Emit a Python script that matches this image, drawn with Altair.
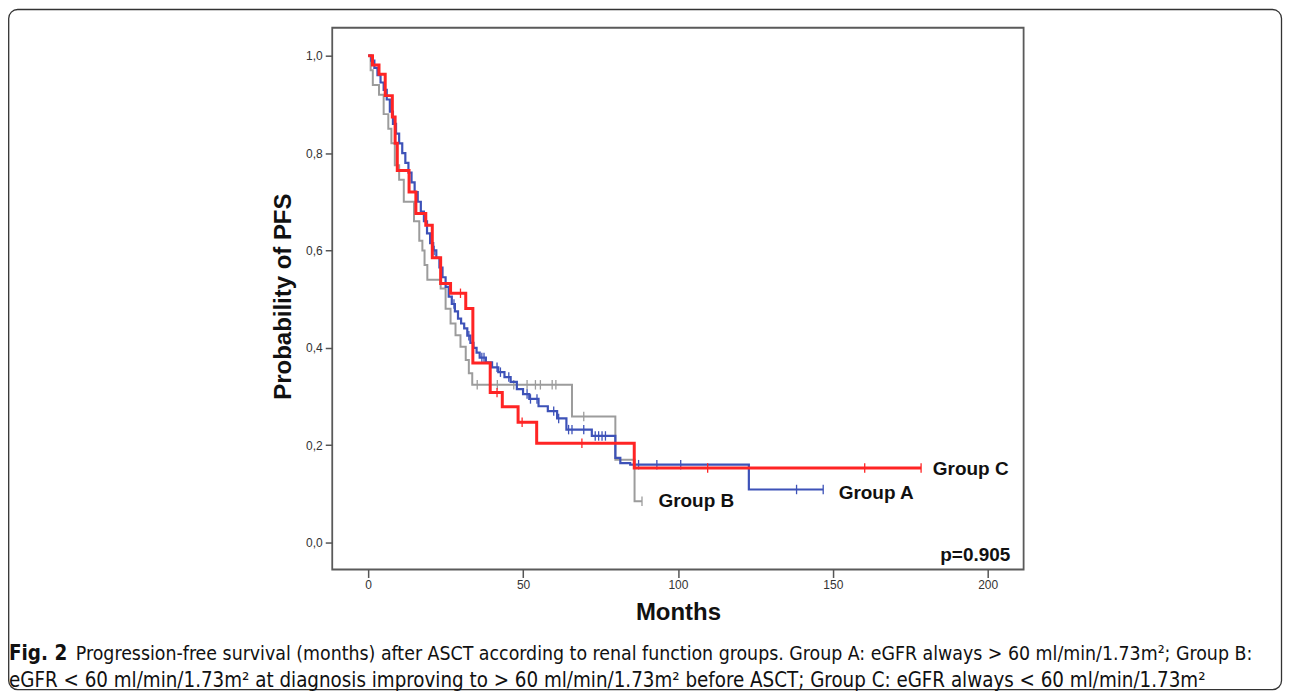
import altair as alt
import pandas as pd

# ---------------- data ----------------
# Group A (blue)
a_time = [0, 1, 2, 3, 4, 5, 6, 7, 8, 9, 10, 11, 12, 13, 14, 15, 16, 17, 18, 19, 20, 21, 22, 23, 24, 25, 26,
          27, 28, 29, 30, 31, 32, 33, 34, 35, 36, 38, 40, 42, 44, 46, 48, 50, 52, 55, 58, 61, 64, 72.2,
          79.8, 81.4, 84.6, 122.9, 146.9]
a_surv = [1.0, 0.99, 0.975, 0.96, 0.945, 0.93, 0.91, 0.885, 0.86, 0.84, 0.82, 0.80, 0.78, 0.76, 0.74, 0.72,
          0.70, 0.68, 0.66, 0.635, 0.615, 0.60, 0.585, 0.565, 0.545, 0.525, 0.505, 0.49, 0.475, 0.46, 0.45,
          0.44, 0.425, 0.41, 0.40, 0.39, 0.38, 0.37, 0.36, 0.35, 0.34, 0.33, 0.315, 0.305, 0.295, 0.28,
          0.27, 0.255, 0.232, 0.219, 0.174, 0.163, 0.160, 0.109, 0.109]
a_cens = [21.3, 27.7, 32.5, 36.7, 37.4, 41.6, 42.7, 45.4, 51.3, 52.4, 54.5, 59.9, 61.5, 64.7, 65.8, 69.6,
          73.3, 74.4, 75.5, 76.6, 87.3, 93.2, 100.9, 138.3, 146.9]

# Group B (grey)
b_time = [0, 0.8, 1.5, 3.5, 5.0, 6.5, 7.5, 8.6, 10.0, 11.5, 14.8, 16.5, 17.5, 18.2, 19.1, 23.4, 25.0, 26.6,
          28.2, 29.8, 31.5, 32.5, 33.6, 65.8, 79.8, 86.0, 88.4]
b_surv = [1.0, 0.97, 0.94, 0.92, 0.88, 0.85, 0.82, 0.775, 0.745, 0.70, 0.66, 0.62, 0.60, 0.57, 0.54, 0.522,
          0.48, 0.45, 0.426, 0.402, 0.375, 0.348, 0.324, 0.259, 0.17, 0.085, 0.085]
b_cens = [35.2, 41.7, 47.0, 51.3, 54.0, 55.6, 59.4, 60.6, 69.6, 88.4]

# Group C (red)
c_time = [0, 1.4, 3.5, 5.5, 7.8, 8.7, 9.4, 13.2, 15.4, 18.6, 20.7, 23.4, 26.6, 31.5, 33.8, 39.4, 43.3,
          48.4, 54.4, 85.9, 178.5]
c_surv = [1.0, 0.981, 0.962, 0.918, 0.874, 0.82, 0.764, 0.72, 0.676, 0.652, 0.585, 0.532, 0.512, 0.481,
          0.369, 0.308, 0.279, 0.247, 0.204, 0.153, 0.153]
c_cens = [29.8, 41.6, 49.7, 69.0, 109.6, 160.3, 178.5]

x_ticks = [0, 50, 100, 150, 200]
y_ticks = [0.0, 0.2, 0.4, 0.6, 0.8, 1.0]

groups = ["Group A", "Group B", "Group C"]
label_m = [151.9, 93.7, 182.3]
label_s = [0.1018, 0.0846, 0.1510]
p_text = "p=0.905"

caption_bold = "Fig. 2"
caption_1 = ("Progression-free survival (months) after ASCT according to renal function groups. "
             "Group A: eGFR always > 60 ml/min/1.73m²; Group B:")
caption_2 = ("eGFR < 60 ml/min/1.73m² at diagnosis improving to > 60 ml/min/1.73m² before ASCT; "
             "Group C: eGFR always < 60 ml/min/1.73m²")

# ---------------- styling ----------------
colors = {"Group A": "#3d52b8", "Group B": "#9c9c9c", "Group C": "#ff2424"}
widths = {"Group A": 2.2, "Group B": 2.0, "Group C": 3.0}
W, H = 693, 543
FONT = "Liberation Sans"
CAP_FONT = "DejaVu Sans Condensed"


def step_value(times, survs, t):
    v = survs[0]
    for tt, s in zip(times, survs):
        if tt <= t:
            v = s
    return v


curves = {"Group A": (a_time, a_surv, a_cens),
          "Group B": (b_time, b_surv, b_cens),
          "Group C": (c_time, c_surv, c_cens)}

xscale = alt.Scale(domain=[-11.6, 211.6], nice=False, zero=False)
yscale = alt.Scale(domain=[-0.0553, 1.0574], nice=False, zero=False)

xaxis = alt.Axis(values=x_ticks, title="Months", grid=False, domain=False, tickSize=8, tickWidth=1.5,
                 tickColor="#555555", labelFont=FONT, labelFontSize=12, labelColor="#333333",
                 labelPadding=2, titleFont=FONT, titleFontSize=24, titleFontWeight="bold",
                 titleColor="#111111", titleBaseline="alphabetic", titleY=50, titleX=W / 2,
                 titleAlign="center")
yaxis = alt.Axis(values=y_ticks, title="Probability of PFS", grid=False, domain=False, tickSize=7,
                 tickWidth=1.5, tickColor="#555555", format=".1f",
                 labelExpr="replace(datum.label, '.', ',')", labelFont=FONT, labelFontSize=12,
                 labelColor="#333333", labelPadding=3, titleFont=FONT, titleFontSize=24,
                 titleFontWeight="bold", titleColor="#111111", titleAngle=-90, titleBaseline="alphabetic",
                 titleAlign="center", titleX=-42, titleY=269)

layers = []
for g in ["Group B", "Group A", "Group C"]:
    t, s, cen = curves[g]
    df = pd.DataFrame({"month": t, "surv": s})
    line = alt.Chart(df).mark_line(interpolate="step-after", color=colors[g], strokeWidth=widths[g]).encode(
        x=alt.X("month:Q", scale=xscale, axis=xaxis),
        y=alt.Y("surv:Q", scale=yscale, axis=yaxis),
        order="month:Q",
    )
    cdf = pd.DataFrame({"month": cen, "surv": [step_value(t, s, c) for c in cen]})
    ticks = alt.Chart(cdf).mark_point(shape="M0,-1L0,1", size=90, filled=False, color=colors[g],
                                      strokeWidth=1.3, opacity=1).encode(
        x=alt.X("month:Q", scale=xscale),
        y=alt.Y("surv:Q", scale=yscale),
    )
    layers += [line, ticks]

lab_df = pd.DataFrame({"group": groups, "month": label_m, "surv": label_s})
labels = alt.Chart(lab_df).mark_text(align="left", baseline="middle", font=FONT, fontSize=19,
                                     fontWeight="bold", color="#111111").encode(
    x=alt.X("month:Q", scale=xscale), y=alt.Y("surv:Q", scale=yscale), text="group:N")

one = pd.DataFrame({"k": [0]})
ptxt = alt.Chart(one).mark_text(align="right", baseline="middle", font=FONT, fontSize=19,
                                fontWeight="bold", color="#111111").encode(
    x=alt.datum(207.3, scale=xscale), y=alt.datum(-0.0246, scale=yscale), text=alt.value(p_text))

border = alt.Chart(one).mark_rect(fill=None, stroke="#333333", strokeWidth=1.3, cornerRadius=9).encode(
    x=alt.value(-324.3), x2=alt.value(951.5), y=alt.value(-18.3), y2=alt.value(663.5))

cap0 = alt.Chart(one).mark_text(align="left", baseline="alphabetic", font=CAP_FONT, fontSize=20.5,
                                fontWeight="bold", color="#111111").encode(
    x=alt.value(-324), y=alt.value(634), text=alt.value(caption_bold))
cap1 = alt.Chart(one).mark_text(align="left", baseline="alphabetic", font=CAP_FONT, fontSize=19.4,
                                color="#111111").encode(
    x=alt.value(-257), y=alt.value(634), text=alt.value(caption_1))
cap2 = alt.Chart(one).mark_text(align="left", baseline="alphabetic", font=CAP_FONT, fontSize=20.4,
                                color="#111111").encode(
    x=alt.value(-324), y=alt.value(661), text=alt.value(caption_2))

chart = alt.layer(border, *layers, labels, ptxt, cap0, cap1, cap2).properties(
    width=W, height=H,
    autosize=alt.AutoSizeParams(type="none"),
    padding={"left": 325, "top": 19, "right": 261, "bottom": 122},
).configure(background="white").configure_view(stroke="#5a5a5a", strokeWidth=1.8)

chart.save("out.html", embed_options={"renderer": "svg", "actions": False})
